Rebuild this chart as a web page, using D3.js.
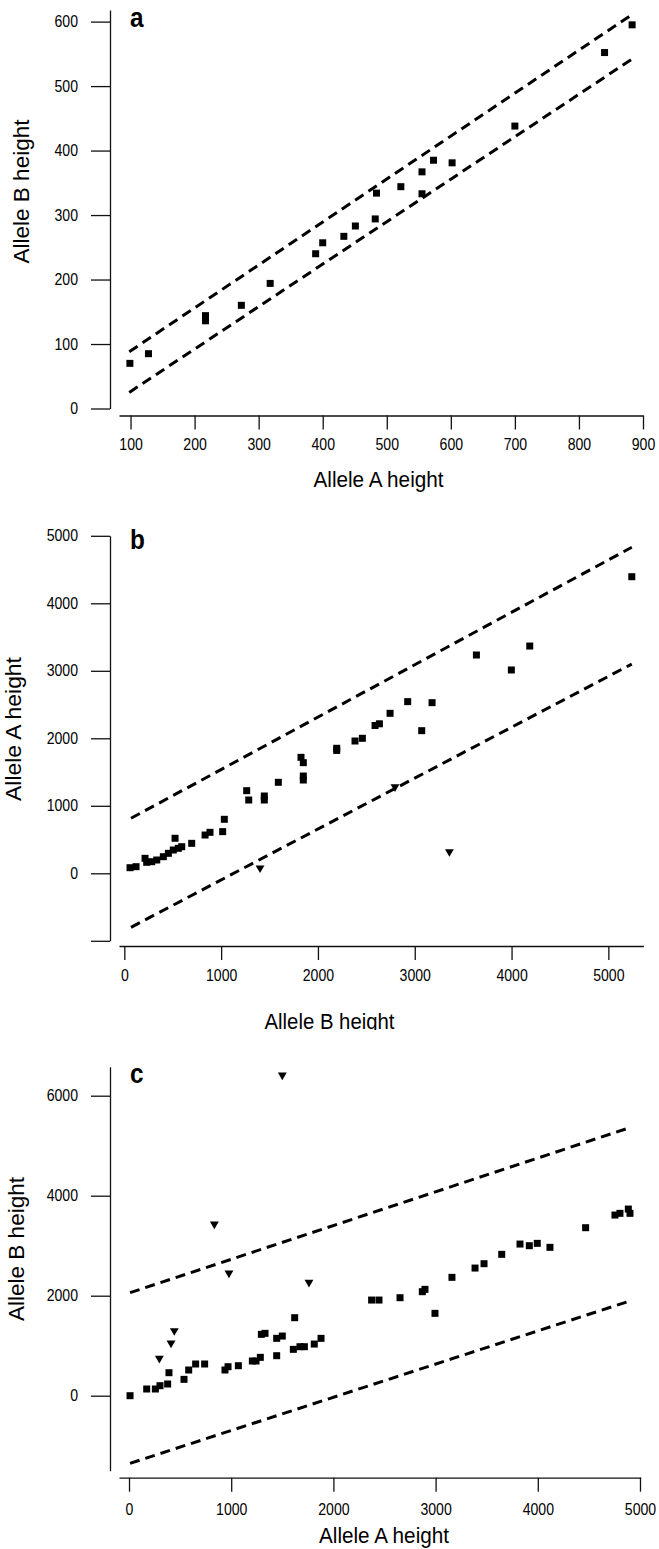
<!DOCTYPE html>
<html>
<head>
<meta charset="utf-8">
<script src="https://cdn.jsdelivr.net/npm/d3@7"></script>
<style>
  html, body { margin: 0; padding: 0; background: #fff; }
  svg { display: block; font-family: "Liberation Sans", Arial, sans-serif; }
</style>
</head>
<body>
<svg id="fig" width="659" height="1549"></svg>
<script>
// ---- Panel a: allele A height (x) vs allele B height (y) ----
const aAlleleA = [99, 128, 217, 217, 273, 318, 389, 400, 433, 451, 482, 484, 522, 555, 555, 573, 602, 700, 840, 883];
const aAlleleB = [70, 85, 144, 136, 160, 194, 240, 257, 267, 283, 294, 334, 344, 333, 367, 385, 381, 438, 552, 595];
const aBandX = [98, 883];
const aBandUpper = [88, 611];
const aBandLower = [25, 542];
const aXTicks = [100, 200, 300, 400, 500, 600, 700, 800, 900];
const aYTicks = [0, 100, 200, 300, 400, 500, 600];

// ---- Panel b: allele B height (x) vs allele A height (y) ----
const bSquareB = [59, 121, 214, 231, 283, 335, 403, 455, 506, 524, 558, 593, 696, 834, 885, 1016, 1033,
                  1264, 1285, 1446, 1446, 1591, 1825, 1849, 1849, 1849, 2194, 2194, 2383, 2459, 2590, 2635,
                  2745, 2927, 3072, 3179, 3637, 3998, 4188, 5242];
const bSquareA = [83, 98, 222, 163, 172, 197, 246, 296, 345, 519, 370, 394, 444, 567, 607, 617, 800,
                  1224, 1086, 1145, 1086, 1348, 1718, 1639, 1441, 1382, 1852, 1820, 1960, 2000, 2190, 2215,
                  2370, 2543, 2113, 2528, 3234, 3012, 3367, 4394];
const bTriangleB = [1402, 2796, 3358];
const bTriangleA = [64, 1265, 305];
const bBandX = [69, 5242];
const bBandUpper = [815, 4830];
const bBandLower = [-800, 3100];
const bXTicks = [0, 1000, 2000, 3000, 4000, 5000];
const bYTicks = [-1000, 0, 1000, 2000, 3000, 4000, 5000];

// ---- Panel c: allele A height (x) vs allele B height (y) ----
const cSquareA = [10, 173, 258, 303, 378, 391, 538, 584, 652, 740, 939, 969, 1070, 1207, 1243, 1285, 1295,
                  1331, 1445, 1445, 1500, 1621, 1608, 1673, 1716, 1813, 1879, 2374, 2446, 2652, 2870, 2896,
                  2994, 3160, 3386, 3474, 3647, 3826, 3917, 3995, 4119, 4468, 4755, 4804, 4886, 4902];
const cSquareB = [0, 134, 134, 200, 234, 460, 327, 514, 634, 634, 514, 580, 600, 694, 694, 767, 1227,
                  1247, 800, 1147, 1193, 1560, 927, 980, 980, 1033, 1147, 1913, 1913, 1960, 2080, 2127,
                  1647, 2367, 2553, 2640, 2827, 3033, 3000, 3047, 2967, 3360, 3613, 3647, 3733, 3647];
const cTriangleA = [297, 411, 443, 835, 978, 1500, 1761];
const cTriangleB = [727, 1033, 1280, 3413, 2433, 6393, 2247];
const cBandX = [10, 4909];
const cBandUpper = [2060, 5367];
const cBandLower = [-1353, 1900];
const cXTicks = [0, 1000, 2000, 3000, 4000, 5000];
const cYTicks = [0, 2000, 4000, 6000];

const svg = d3.select("#fig");
const INK = "#000";

// Squeeze a text element horizontally by factor k
function condense(sel, k) {
  sel.each(function () {
    const w = this.getComputedTextLength();
    d3.select(this).attr("textLength", w * k).attr("lengthAdjust", "spacingAndGlyphs");
  });
}

function zip(xs, ys) { return xs.map((v, i) => [v, ys[i]]); }

function drawPanel(o) {
  const g = svg.append("g");
  if (o.clipY != null) {
    const id = "clip-" + o.letter;
    svg.append("defs").append("clipPath").attr("id", id)
      .append("rect").attr("x", 0).attr("y", 0).attr("width", 659).attr("height", o.clipY);
    g.attr("clip-path", `url(#${id})`);
  }

  const x = d3.scaleLinear().domain(o.xDomain).range(o.xRange);
  const y = d3.scaleLinear().domain(o.yDomain).range(o.yRange);

  // axes
  const yAx = g.append("g")
    .attr("transform", "translate(110,0)")
    .call(d3.axisLeft(y).tickValues(o.yTicks).tickSize(19).tickSizeOuter(0).tickPadding(13)
      .tickFormat(d => d < 0 ? "" : d3.format("d")(d)));
  const xAx = g.append("g")
    .attr("transform", `translate(0,${o.xAxisY})`)
    .call(d3.axisBottom(x).tickValues(o.xTicks).tickSize(14).tickSizeOuter(0).tickPadding(o.xPad)
      .tickFormat(d3.format("d")));
  [yAx, xAx].forEach(a => {
    a.attr("font-family", null).attr("font-size", null);
    a.selectAll("path, line").attr("stroke", "#111").attr("stroke-width", 1.3);
    a.selectAll("text").attr("fill", INK).style("font-size", "16px");
    condense(a.selectAll("text"), 0.88);
  });

  // tolerance band
  const line = d3.line().x(d => x(d[0])).y(d => y(d[1]));
  [o.bandUpper, o.bandLower].forEach(band => {
    g.append("path")
      .datum(zip(o.bandX, band))
      .attr("d", line)
      .attr("fill", "none")
      .attr("stroke", INK)
      .attr("stroke-width", 3)
      .attr("stroke-dasharray", "10,6");
  });

  // observations
  const square = d3.symbol().type(d3.symbolSquare).size(49);
  g.append("g").selectAll("path")
    .data(zip(o.sqX, o.sqY))
    .join("path")
    .attr("d", square)
    .attr("transform", d => `translate(${x(d[0])},${y(d[1])})`)
    .attr("fill", INK);

  if (o.triX) {
    const tri = d3.symbol().type(d3.symbolTriangle).size(34);
    g.append("g").selectAll("path")
      .data(zip(o.triX, o.triY))
      .join("path")
      .attr("d", tri)
      .attr("transform", d => `translate(${x(d[0])},${y(d[1]) - 1}) rotate(180)`)
      .attr("fill", INK);
  }

  // panel letter
  const lt = g.append("text")
    .attr("x", 130).attr("y", o.letterY)
    .attr("fill", INK)
    .style("font-size", "27px").style("font-weight", "bold")
    .text(o.letter);
  condense(lt, 0.9);

  // axis titles
  g.append("text")
    .attr("x", o.xTitleX).attr("y", o.xTitleY)
    .attr("text-anchor", "middle")
    .attr("fill", INK)
    .style("font-size", "22px")
    .attr("textLength", 130).attr("lengthAdjust", "spacingAndGlyphs")
    .text(o.xTitle);
  g.append("text")
    .attr("transform", `translate(${o.yTitleX},${o.yTitleY}) rotate(-90)`)
    .attr("text-anchor", "middle")
    .attr("fill", INK)
    .style("font-size", "22px")
    .attr("textLength", 144).attr("lengthAdjust", "spacingAndGlyphs")
    .text(o.yTitle);
}

drawPanel({
  letter: "a", letterY: 27,
  xDomain: [82, 900], xRange: [119, 643],
  yDomain: [0, 618], yRange: [408.5, 10],
  xTicks: aXTicks, yTicks: aYTicks,
  xAxisY: 415.5, xPad: 9,
  sqX: aAlleleA, sqY: aAlleleB,
  bandX: aBandX, bandUpper: aBandUpper, bandLower: aBandLower,
  xTitle: "Allele A height", xTitleX: 378.5, xTitleY: 487,
  yTitle: "Allele B height", yTitleX: 29, yTitleY: 191.5
});

drawPanel({
  letter: "b", letterY: 549,
  xDomain: [-55, 5362], xRange: [119, 643.4],
  yDomain: [-1000, 5000], yRange: [940.8, 535.8],
  xTicks: bXTicks, yTicks: bYTicks,
  xAxisY: 946, xPad: 10,
  sqX: bSquareB, sqY: bSquareA,
  triX: bTriangleB, triY: bTriangleA,
  bandX: bBandX, bandUpper: bBandUpper, bandLower: bBandLower,
  xTitle: "Allele B height", xTitleX: 329.5, xTitleY: 1029,
  yTitle: "Allele A height", yTitleX: 21, yTitleY: 729,
  clipY: 1030
});

drawPanel({
  letter: "c", letterY: 1083,
  xDomain: [-98, 5007], xRange: [119, 640.7],
  yDomain: [-1500, 6580], yRange: [1470.7, 1066.7],
  xTicks: cXTicks, yTicks: cYTicks,
  xAxisY: 1477.7, xPad: 12,
  sqX: cSquareA, sqY: cSquareB,
  triX: cTriangleA, triY: cTriangleB,
  bandX: cBandX, bandUpper: cBandUpper, bandLower: cBandLower,
  xTitle: "Allele A height", xTitleX: 384, xTitleY: 1543,
  yTitle: "Allele B height", yTitleX: 24, yTitleY: 1249
});
</script>
</body>
</html>
